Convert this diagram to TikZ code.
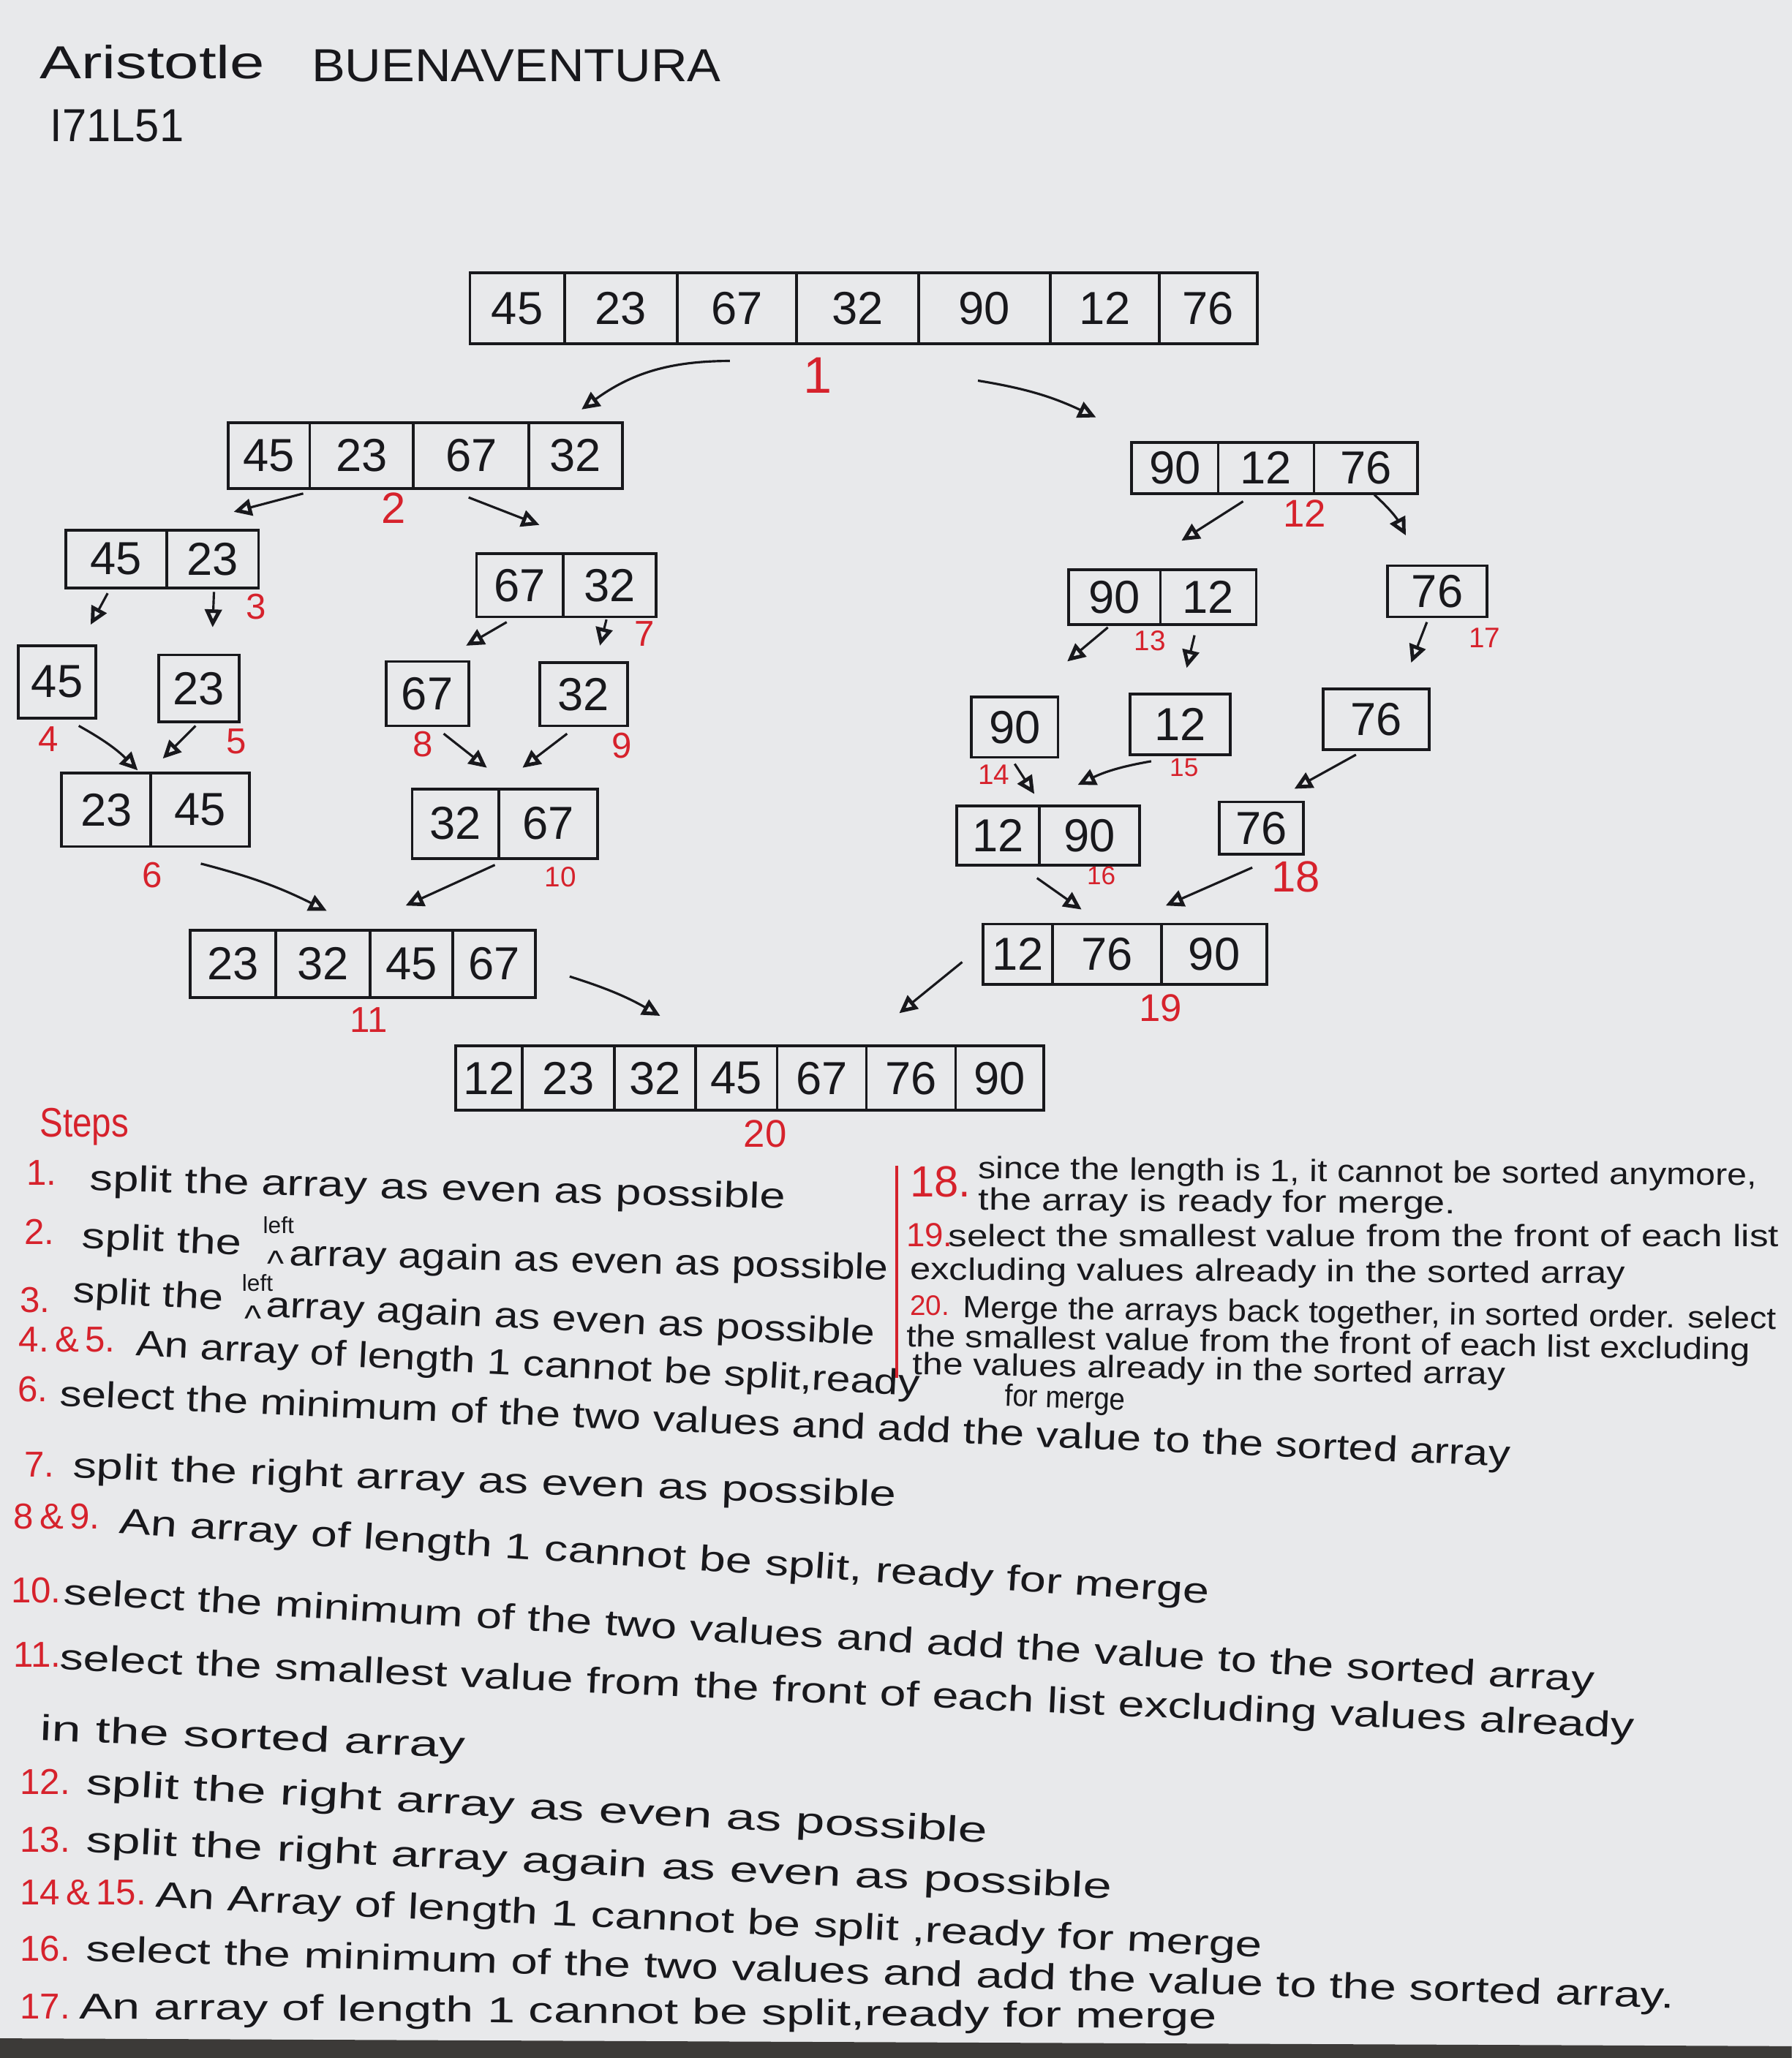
\documentclass[tikz,border=0pt]{standalone}
\usepackage{fontspec}
\setmainfont{Liberation Sans}
\usetikzlibrary{arrows.meta,calc}

\definecolor{paper}{RGB}{232,233,235}
\definecolor{ink}{RGB}{24,24,28}
\definecolor{redink}{RGB}{214,34,44}
\definecolor{edge}{RGB}{60,58,56}

% stretch a line of text horizontally to a given width (in picture units)
\newlength\fitlen
\newcommand\fitto[2]{\settowidth\fitlen{#2}\pgfmathsetmacro\fitsx{#1*0.5086pt/\fitlen}\scalebox{\fitsx}[1]{#2}}

% one array: name, top y, bottom y, list of left/right/value
\newcommand\sortarray[4]{%
  \foreach \xl/\xr/\v [count=\i] in {#4}{%
    \node[cell, minimum width={(\xr-\xl)*0.1794mm}, minimum height={(#3-#2)*0.1794mm}]
      (#1-\i) at ({(\xl+\xr)/2},{(#2+#3)/2}) {\v};}}

% one connector between two named points
\newcommand\conn[4][]{%
  \coordinate (#2-s) at (#3);
  \coordinate (#2-t) at (#4);
  \draw[arr] (#2-s) to[#1] (#2-t);}

% one written line of the step list
\newcommand\stepline[6][stxt]{%
  \node[#1, rotate=#4] (#2) at (#3) {\fitto{#5}{#6}};}

\tikzset{
  cell/.style={draw=ink, line width=1.1pt, inner sep=0pt, text=ink,
    font=\fontsize{18}{18}\selectfont},
  lbl/.style={text=redink, inner sep=0pt, font=\fontsize{14}{14}\selectfont},
  arr/.style={draw=ink, line width=0.9pt,
    -{Triangle[open, length=7pt, width=6.5pt, line width=1.4pt]}},
  stxt/.style={text=ink, anchor=base west, inner sep=0pt,
    font=\fontsize{14}{14}\selectfont},
  rtxt/.style={text=ink, anchor=base west, inner sep=0pt,
    font=\fontsize{12}{12}\selectfont},
  snum/.style={text=redink, anchor=base west, inner sep=0pt,
    font=\fontsize{14}{14}\selectfont},
}

\begin{document}
\begin{tikzpicture}[x=0.1794mm, y=-0.1794mm]
% paper
\fill[paper] (0,0) rectangle (1365,1568);
\fill[edge] (0,1553) -- (1365,1559) -- (1365,1568) -- (0,1568) -- cycle;
\useasboundingbox (0,0) rectangle (1365,1568);

% heading
\node[stxt, font=\fontsize{18}{18}\selectfont] (name1) at (30,60) {\fitto{172}{Aristotle}};
\node[stxt, font=\fontsize{18}{18}\selectfont] (name2) at (237,62) {\fitto{313}{BUENAVENTURA}};
\node[stxt, font=\fontsize{18}{18}\selectfont] (sid) at (38,108) {\fitto{102}{I71L51}};

% ---------- split phase ----------
\sortarray{top}{208}{262}{358/430/45,430/516/23,516/607/67,607/700/32,700/800/90,800/883/12,883/958/76}
\sortarray{la}{322}{372}{174/236/45,236/315/23,315/403/67,403/474/32}
\sortarray{ra}{337}{376}{862/928/90,928/1001/12,1001/1080/76}
\sortarray{lla}{404}{448}{50/127/45,127/197/23}
\sortarray{lra}{422}{470}{363/429/67,429/500/32}
\sortarray{rla}{434}{476}{814/884/90,884/957/12}
\sortarray{rra}{431}{470}{1057/1133/76}
\sortarray{sa}{492}{547}{14/73/45}
\sortarray{sb}{499}{550}{121/182/23}
\sortarray{sc}{504}{553}{294/357/67}
\sortarray{sd}{505}{553}{411/478/32}
\sortarray{se}{531}{577}{740/806/90}
\sortarray{sf}{529}{575}{861/937/12}
\sortarray{sg}{525}{571}{1008/1089/76}

% ---------- merge phase ----------
\sortarray{ma}{589}{645}{47/115/23,115/190/45}
\sortarray{mb}{601}{654}{314/380/32,380/455/67}
\sortarray{mc}{614}{659}{729/792/12,792/868/90}
\sortarray{md}{611}{651}{929/993/76}
\sortarray{me}{709}{760}{145/210/23,210/282/32,282/345/45,345/408/67}
\sortarray{mf}{704}{750}{749/802/12,802/885/76,885/965/90}
\sortarray{fin}{797}{846}{347/398/12,398/468/23,468/530/32,530/592/45,592/660/67,660/728/76,728/795/90}

% connectors
\conn[bend right=18]{c1}{556,275}{443,312}
\conn[bend left=8]{c2}{745,290}{835,318}
\conn{c3}{231,376}{178,390}
\conn{c4}{357,379}{411,400}
\conn{c5}{947,382}{900,412}
\conn[bend left=10]{c6}{1047,377}{1071,408}
\conn{c7}{82,452}{69,476}
\conn{c8}{163,451}{162,478}
\conn{c9}{386,474}{355,492}
\conn{c10}{462,472}{457,492}
\conn{c11}{844,478}{813,504}
\conn{c12}{910,484}{904,509}
\conn{c13}{1087,474}{1075,505}
\conn[bend left=8]{c14}{60,553}{105,587}
\conn{c15}{149,553}{124,578}
\conn{c16}{338,559}{371,585}
\conn{c17}{432,559}{398,585}
\conn{c18}{773,582}{788,605}
\conn[bend right=8]{c19}{877,580}{821,598}
\conn{c20}{1033,575}{986,601}
\conn[bend left=6]{c21}{153,658}{249,694}
\conn{c22}{377,659}{309,690}
\conn{c23}{790,669}{824,693}
\conn{c24}{954,661}{888,690}
\conn[bend left=6]{c25}{434,744}{503,774}
\conn{c26}{733,733}{685,772}

% step numbers beside the arrays
\node[lbl, font=\fontsize{20}{20}\selectfont] (n1) at (623,286) {1};
\node[lbl, font=\fontsize{17}{17}\selectfont] (n2) at (300,387) {2};
\node[lbl] (n3) at (195,462) {3};
\node[lbl] (n4) at (37,563) {4};
\node[lbl] (n5) at (180,565) {5};
\node[lbl] (n6) at (116,667) {6};
\node[lbl] (n7) at (491,483) {7};
\node[lbl] (n8) at (322,567) {8};
\node[lbl] (n9) at (474,568) {9};
\node[lbl, font=\fontsize{11}{11}\selectfont] (n10) at (427,668) {10};
\node[lbl] (n11) at (281,777) {11};
\node[lbl, font=\fontsize{15}{15}\selectfont] (n12) at (994,391) {12};
\node[lbl, font=\fontsize{11}{11}\selectfont] (n13) at (876,488) {13};
\node[lbl, font=\fontsize{11}{11}\selectfont] (n14) at (757,590) {14};
\node[lbl, font=\fontsize{10}{10}\selectfont] (n15) at (902,585) {15};
\node[lbl, font=\fontsize{10}{10}\selectfont] (n16) at (839,667) {16};
\node[lbl, font=\fontsize{11}{11}\selectfont] (n17) at (1131,486) {17};
\node[lbl, font=\fontsize{17}{17}\selectfont] (n18) at (987,668) {18};
\node[lbl, font=\fontsize{15}{15}\selectfont] (n19) at (884,768) {19};
\node[lbl, font=\fontsize{15}{15}\selectfont] (n20) at (583,864) {20};

% ---------- written steps ----------
\node[snum, font=\fontsize{16}{16}\selectfont] (steps) at (30,866) {\fitto{68}{Steps}};

\node[snum] (s1) at (20,903) {1.};
\stepline{t1}{68,907}{-1.5}{532}{split the array as even as possible}

\node[snum] (s2) at (18,948) {2.};
\stepline{t2a}{62,951}{-2.5}{122}{split the}
\node[stxt, font=\fontsize{9}{9}\selectfont] (l2) at (200,940) {left};
\node[stxt] (c2m) at (203,972) {\textasciicircum};
\stepline{t2b}{220,964}{-1.4}{458}{array again as even as possible}

\node[snum] (s3) at (15,1000) {3.};
\stepline{t3a}{55,992}{-3}{115}{split the}
\node[stxt, font=\fontsize{9}{9}\selectfont] (l3) at (184,984) {left};
\node[stxt] (c3m) at (186,1014) {\textasciicircum};
\stepline{t3b}{202,1003}{-2.7}{466}{array again as even as possible}

\node[snum] (s4) at (14,1030) {4.\,\&\,5.};
\stepline{t4}{103,1033}{-2.9}{600}{An array of length 1 cannot be split,ready}
\stepline[rtxt]{t4b}{765,1071}{-2}{92}{for merge}

\node[snum] (s6) at (13,1068) {6.};
\stepline{t6}{45,1071}{-2.4}{1110}{select the minimum of the two values and add the value to the sorted array}

\node[snum] (s7) at (18,1125) {7.};
\stepline{t7}{55,1126}{-2.0}{630}{split the right array as even as possible}

\node[snum] (s8) at (10,1165) {8\,\&\,9.};
\stepline{t8}{90,1168}{-3.7}{835}{An array of length 1 cannot be split, ready for merge}

\node[snum] (s10) at (8,1221) {10.};
\stepline{t10}{48,1222}{-3.3}{1172}{select the minimum of the two values and add the value to the sorted array}

\node[snum] (s11) at (10,1270) {11.};
\stepline{t11}{45,1272}{-2.5}{1205}{select the smallest value from the front of each list excluding values already}
\stepline{t11b}{30,1326}{-2.3}{325}{in the sorted array}

\node[snum] (s12) at (15,1367) {12.};
\stepline{t12}{65,1367}{-3.1}{690}{split the right array as even as possible}

\node[snum] (s13) at (15,1411) {13.};
\stepline{t13}{65,1411}{-2.6}{785}{split the right array again as even as possible}

\node[snum] (s14) at (15,1451) {14\,\&\,15.};
\stepline{t14}{118,1453}{-2.6}{847}{An Array of length 1 cannot be split ,ready for merge}

\node[snum] (s16) at (15,1494) {16.};
\stepline{t16}{65,1494}{-1.7}{1215}{select the minimum of the two values and add the value to the sorted array.}

\node[snum] (s17) at (15,1538) {17.};
\stepline{t17}{60,1538}{-0.5}{870}{An array of length 1 cannot be split,ready for merge}

% right-hand column
\draw[redink, line width=1.1pt] (683,888) -- (683,1050);
\node[snum, font=\fontsize{17}{17}\selectfont] (s18) at (693,912) {18.};
\stepline[rtxt]{t18a}{745,898}{-0.5}{595}{since the length is 1, it cannot be sorted anymore,}
\stepline[rtxt]{t18b}{745,922}{-0.4}{365}{the array is ready for merge.}

\node[snum, font=\fontsize{13}{13}\selectfont] (s19) at (690,950) {19.};
\stepline[rtxt]{t19a}{722,950}{0}{635}{select the smallest value from the front of each list}
\stepline[rtxt]{t19b}{693,975}{-0.3}{547}{excluding values already in the sorted array}

\node[snum, font=\fontsize{11}{11}\selectfont] (s20) at (693,1002) {20.};
\stepline[rtxt]{t20a}{733,1004}{-0.8}{622}{Merge the arrays back together, in sorted order. select}
\stepline[rtxt]{t20b}{690,1026}{-0.9}{645}{the smallest value from the front of each list excluding}
\stepline[rtxt]{t20c}{695,1047}{-1}{453}{the values already in the sorted array}
\end{tikzpicture}
\end{document}
